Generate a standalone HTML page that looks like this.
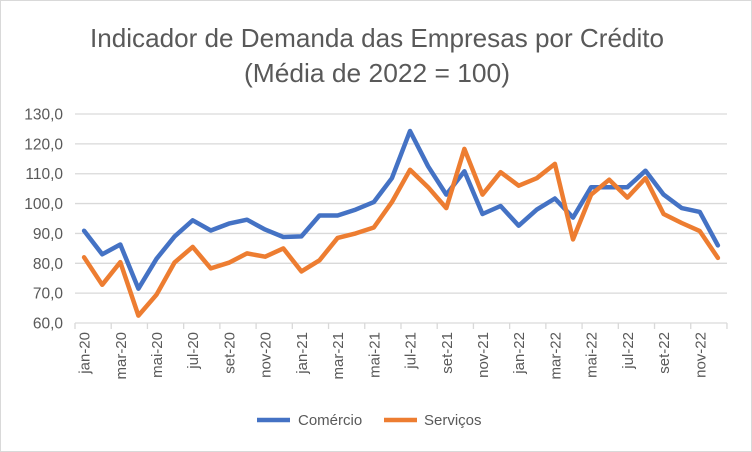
<!DOCTYPE html>
<html><head><meta charset="utf-8"><style>
body{margin:0;background:#fff}
svg{display:block;font-family:"Liberation Sans",sans-serif}
</style></head><body>
<svg id="s" width="752" height="452" viewBox="0 0 752 452" xmlns="http://www.w3.org/2000/svg">
<rect x="0.5" y="0.5" width="751" height="451" fill="#fff" stroke="#d9d9d9"/>
<text x="377" y="47" text-anchor="middle" font-size="26" fill="#595959" textLength="574" lengthAdjust="spacingAndGlyphs">Indicador de Demanda das Empresas por Crédito</text>
<text x="377" y="82" text-anchor="middle" font-size="26" fill="#595959" textLength="266" lengthAdjust="spacingAndGlyphs">(Média de 2022 = 100)</text>
<g id="g"></g>
<line x1="257" y1="420" x2="290" y2="420" stroke="#4472c4" stroke-width="4.5"/>
<text x="298" y="425" font-size="15" fill="#595959">Comércio</text>
<line x1="384" y1="420" x2="417" y2="420" stroke="#ed7d31" stroke-width="4.5"/>
<text x="424" y="425" font-size="15" fill="#595959">Serviços</text>
</svg>
<script>
var g=document.getElementById('g'),h='';
function Y(v){return 114+(130-v)*2.986;}
for(var v=60;v<=130;v+=10){var y=Y(v);h+='<line x1="75" x2="727" y1="'+y+'" y2="'+y+'" stroke="#d9d9d9" stroke-width="1.3"/>';
h+='<text x="63" y="'+(y+5.5)+'" text-anchor="end" font-size="15.5" fill="#595959">'+v+',0</text>';}
var W=18.11;
for(var i=0;i<=36;i+=2){var x=75+i*W;h+='<line x1="'+x+'" x2="'+x+'" y1="323" y2="329" stroke="#d9d9d9" stroke-width="1.3"/>';}
var m=['jan','mar','mai','jul','set','nov'];
for(var i=0;i<36;i+=2){var x=75+(i+0.5)*W+5.5;var lab=m[(i%12)/2]+'-'+(20+Math.floor(i/12));
h+='<text transform="translate('+x+',332) rotate(-90)" text-anchor="end" font-size="15" fill="#595959">'+lab+'</text>';}
var c=[90.9,83,86.3,71.5,81.5,89,94.4,91,93.3,94.6,91.3,88.8,89,96,96,98,100.5,108.5,124.3,112.5,103,110.8,96.5,99.2,92.6,98,101.7,95.3,105.5,105.5,105.5,111,103,98.5,97.2,86];
var s=[82,72.8,80.4,62.5,69.5,80.3,85.5,78.3,80.2,83.3,82.2,85,77.3,81,88.5,90,92,100.5,111.3,105.5,98.5,118.3,103,110.5,106,108.5,113.3,88,103,108,102,108.5,96.5,93.5,90.8,81.8];
function pl(d,col){var p=d.map(function(v,i){return (75+(i+0.5)*W).toFixed(1)+','+Y(v).toFixed(1)}).join(' ');
return '<polyline points="'+p+'" fill="none" stroke="'+col+'" stroke-width="4.5" stroke-linejoin="round" stroke-linecap="round"/>';}
h+=pl(c,'#4472c4')+pl(s,'#ed7d31');
g.innerHTML=h;
</script>
</body></html>
